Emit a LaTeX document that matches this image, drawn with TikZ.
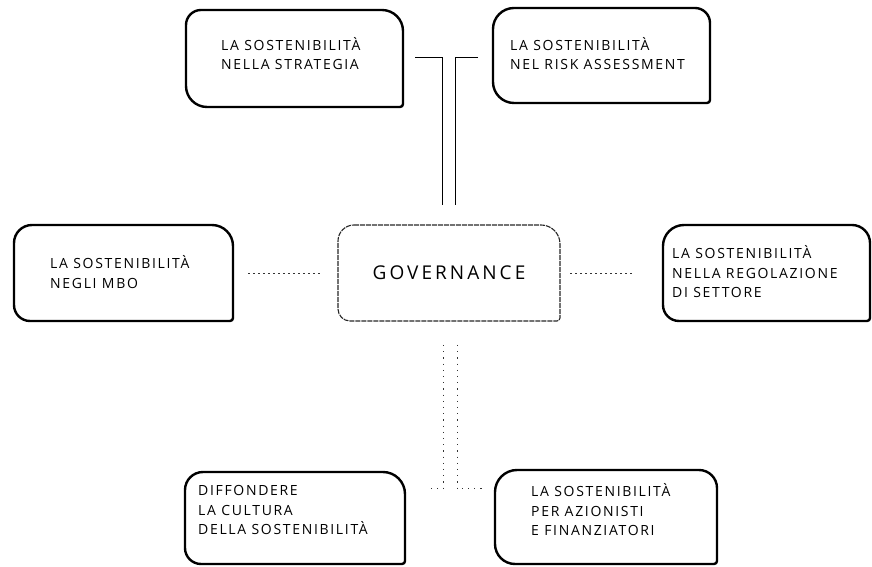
\documentclass[tikz,border=0pt]{standalone}
\usepackage{fontspec}
\newfontfamily\boxfont{Open Sans}[LetterSpace=12]
\newfontfamily\govfont{Open Sans}[LetterSpace=16]
\usetikzlibrary{calc}
\tikzset{
  boxn/.style={draw=none, inner sep=0pt, outer sep=0pt},
  boxline/.style={draw=black, line width=2.4pt, line join=round},
  govline/.style={draw=black!85, line width=1.1pt, dash pattern=on 5pt off 1pt},
  txt/.style={anchor=west, align=left, inner sep=0pt, font=\boxfont\fontsize{14}{19.5}\selectfont},
  link/.style={draw=black, line width=0.9pt},
  dotsh/.style={draw=black!80, line width=0.8pt, dash pattern=on 2pt off 3pt},
  dotsv/.style={draw=black!80, line width=1pt, dash pattern=on 1.2pt off 5pt},
}
\newcommand\boxpath[6]{%
  \draw[#6] ($(#1.north west)+(#2pt,0)$) -- ($(#1.north east)-(#3pt,0)$)
    arc[start angle=90,end angle=0,radius=#3pt]
    -- ($(#1.south east)+(0,#4pt)$)
    arc[start angle=0,end angle=-90,radius=#4pt]
    -- ($(#1.south west)+(#5pt,0)$)
    arc[start angle=270,end angle=180,radius=#5pt]
    -- ($(#1.north west)-(0,#2pt)$)
    arc[start angle=180,end angle=90,radius=#2pt] -- cycle;}
\begin{document}
\begin{tikzpicture}[x=1pt,y=1pt]
\useasboundingbox (0,0) rectangle (872,567);
% box frames (positions)
\node[boxn, minimum width=217pt, minimum height=97pt] (tl) at (294.5,508.5) {};
\node[boxn, minimum width=217pt, minimum height=95pt] (tr) at (601.5,511.5) {};
\node[boxn, minimum width=219pt, minimum height=96pt] (mbo) at (123.5,294) {};
\node[boxn, minimum width=222pt, minimum height=96pt] (gov) at (449,294) {};
\node[boxn, minimum width=207pt, minimum height=96pt] (reg) at (766.5,294) {};
\node[boxn, minimum width=220pt, minimum height=92pt] (bl) at (295,49) {};
\node[boxn, minimum width=222pt, minimum height=94pt] (br) at (606,50) {};
% outlines
\boxpath{tl}{15}{21}{3}{21}{boxline}
\boxpath{tr}{21}{15}{3}{21}{boxline}
\boxpath{mbo}{18}{21}{3}{16}{boxline}
\boxpath{gov}{16}{19}{3}{12}{govline}
\boxpath{reg}{21}{18}{3}{16}{boxline}
\boxpath{bl}{18}{22}{3}{16}{boxline}
\boxpath{br}{22}{18}{3}{20}{boxline}
% texts
\node[txt] (tlt) at (221,513.5) {LA SOSTENIBILITÀ\\NELLA STRATEGIA};
\node[txt] (trt) at (510,513.5) {LA SOSTENIBILITÀ\\NEL RISK ASSESSMENT};
\node[txt] (mbot) at (50,295) {LA SOSTENIBILITÀ\\NEGLI MBO};
\node[txt] (regt) at (672,295) {LA SOSTENIBILITÀ\\NELLA REGOLAZIONE\\DI SETTORE};
\node[txt] (blt) at (198,57) {DIFFONDERE\\LA CULTURA\\DELLA SOSTENIBILITÀ};
\node[txt] (brt) at (531,57) {LA SOSTENIBILITÀ\\PER AZIONISTI\\E FINANZIATORI};
\node[inner sep=0pt, font=\govfont\fontsize{19}{22}\selectfont] (govt) at (gov.center) {GOVERNANCE};
% connectors
\draw[link, shorten <=12pt, shorten >=20pt] ([yshift=1.5pt]tl.east) -| ([xshift=-7pt]gov.north);
\draw[link, shorten <=15pt, shorten >=20pt] ([yshift=-1.5pt]tr.west) -| ([xshift=6pt]gov.north);
\draw[dotsh, shorten <=15pt, shorten >=16pt] (mbo.east) -- (gov.west);
\draw[dotsh, shorten <=10pt, shorten >=30pt] (gov.east) -- (reg.west);
\draw[dotsv, shorten <=24pt, shorten >=23pt] ([xshift=-6pt]gov.south) |- ([yshift=29pt]bl.east);
\draw[dotsv, shorten <=24pt, shorten >=12pt] ([xshift=8pt]gov.south) |- ([yshift=28pt]br.west);
\end{tikzpicture}
\end{document}
